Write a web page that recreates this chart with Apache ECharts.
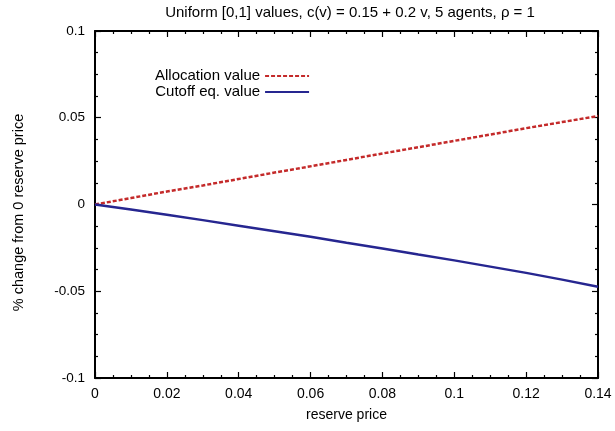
<!DOCTYPE html>
<html>
<head>
<meta charset="utf-8">
<script src="https://cdn.jsdelivr.net/npm/echarts@6/dist/echarts.min.js"></script>
<style>
  html, body { margin: 0; padding: 0; background: #fff; }
  #main { width: 615px; height: 431px; }
</style>
</head>
<body>
<div id="main"></div>
<script>
// reserve price values (x)
var reservePrice = [0, 0.01, 0.02, 0.03, 0.04, 0.05, 0.06, 0.07, 0.08, 0.09, 0.1, 0.11, 0.12, 0.13, 0.14];
// % change from 0 reserve price
var allocationValue = [0, 0.0037, 0.0075, 0.011, 0.0147, 0.0184, 0.022, 0.0257, 0.0294, 0.033, 0.0367, 0.0403, 0.044, 0.0475, 0.051];
var cutoffValue = [0, -0.0029, -0.0059, -0.0090, -0.0122, -0.0154, -0.0186, -0.0220, -0.0253, -0.0288, -0.0322, -0.0358, -0.0394, -0.0433, -0.0474];
var seriesNames = ['Allocation value', 'Cutoff eq. value'];

function pairs(xs, ys) {
  return xs.map(function (x, i) { return [x, ys[i]]; });
}

var font = 'Liberation Sans, Arial, sans-serif';
var chart = echarts.init(document.getElementById('main'));

var tickCommon = {
  axisLine: { show: true, onZero: false, lineStyle: { color: '#000', width: 2 } },
  axisTick: { show: true, inside: true, length: 6, lineStyle: { color: '#000', width: 1.2 } },
  minorTick: { show: true, splitNumber: 4, length: 3, lineStyle: { color: '#000', width: 1.2 } },
  splitLine: { show: false }
};

var option = {
  backgroundColor: '#fff',
  animation: false,
  title: {
    text: 'Uniform [0,1] values, c(v) = 0.15 + 0.2 v, 5 agents, \u03c1 = 1',
    left: 345, top: 0, textAlign: 'center',
    textStyle: { fontFamily: font, fontSize: 15, fontWeight: 'normal', color: '#000' }
  },
  legend: {
    orient: 'vertical',
    left: 150, top: 63,
    align: 'right',
    itemWidth: 44, itemHeight: 10, itemGap: 0,
    itemStyle: { opacity: 0 },
    textStyle: { fontFamily: font, fontSize: 15, lineHeight: 16, color: '#000' },
    data: seriesNames
  },
  grid: { left: 95, right: 17, top: 31, bottom: 53 },
  xAxis: [
    Object.assign({
      type: 'value', min: 0, max: 0.14, interval: 0.02,
      name: 'reserve price', nameLocation: 'middle', nameGap: 30,
      nameTextStyle: { fontFamily: font, fontSize: 14, color: '#000' },
      axisLabel: { fontFamily: font, fontSize: 14, color: '#000', margin: 9 }
    }, tickCommon),
    Object.assign({
      type: 'value', min: 0, max: 0.14, interval: 0.02, position: 'top',
      axisLabel: { show: false }
    }, tickCommon)
  ],
  yAxis: [
    Object.assign({
      type: 'value', min: -0.1, max: 0.1, interval: 0.05,
      name: '% change from 0 reserve price', nameLocation: 'middle', nameGap: 69,
      nameTextStyle: { fontFamily: font, fontSize: 14.5, color: '#000', padding: [0, 16, 0, 0] },
      axisLabel: { fontFamily: font, fontSize: 13.5, color: '#000', margin: 10 }
    }, tickCommon),
    Object.assign({
      type: 'value', min: -0.1, max: 0.1, interval: 0.05, position: 'right',
      axisLabel: { show: false }
    }, tickCommon)
  ],
  series: [
    {
      name: seriesNames[0], type: 'line', showSymbol: false, symbol: 'none',
      data: pairs(reservePrice, allocationValue),
      itemStyle: { color: '#c42a2a' },
      lineStyle: { color: '#c42a2a', width: 2.5, type: [4, 2] }
    },
    {
      name: seriesNames[1], type: 'line', showSymbol: false, symbol: 'none',
      data: pairs(reservePrice, cutoffValue),
      itemStyle: { color: '#262690' },
      lineStyle: { color: '#262690', width: 2.5 }
    }
  ]
};

chart.setOption(option);
</script>
</body>
</html>
